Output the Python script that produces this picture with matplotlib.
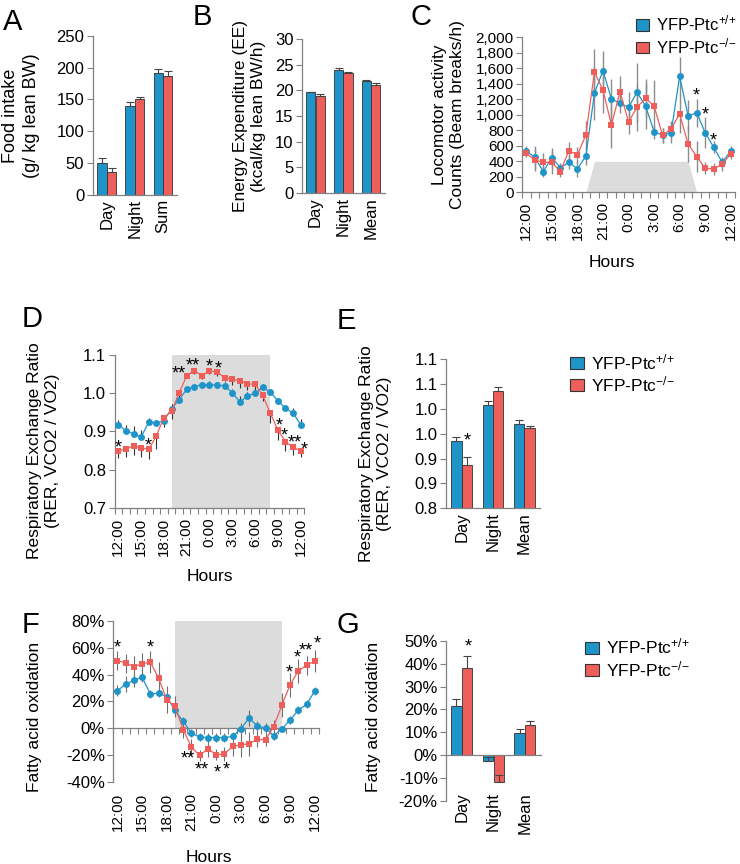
import matplotlib
matplotlib.use("Agg")
import matplotlib.pyplot as plt
import numpy as np
from matplotlib.patches import Patch
from matplotlib.ticker import FuncFormatter

plt.rcParams['font.family'] = ['Liberation Sans', 'DejaVu Sans']
plt.rcParams['mathtext.fontset'] = 'custom'
plt.rcParams['mathtext.rm'] = 'Liberation Sans'
plt.rcParams['mathtext.it'] = 'Liberation Sans:italic'

BLUE = '#1f94c9'
RED = '#ee5f5b'
GREY = '#808080'
SHADE = '#dcdcdc'

# --- data ---
periods_sum = ['Day', 'Night', 'Sum']
periods = ['Day', 'Night', 'Mean']
hour_labels = ['12:00', '15:00', '18:00', '21:00', '0:00', '3:00', '6:00', '9:00', '12:00']

food_wt = [50.7, 139.6, 192.0]
food_wt_err = [6.8, 5.8, 5.2]
food_ko = [36.1, 150.6, 186.7]
food_ko_err = [7.0, 2.6, 7.3]

ee_wt = [19.6, 24.0, 21.8]
ee_wt_err = [0.1, 0.3, 0.15]
ee_ko = [18.9, 23.4, 21.1]
ee_ko_err = [0.4, 0.3, 0.3]

loco_wt = [533, 452, 267, 447, 318, 387, 301, 469, 1277, 1570, 1204, 1148, 1097,
           1290, 1114, 783, 735, 770, 1497, 985, 1028, 770, 581, 387, 533]
loco_wt_err = [60, 150, 70, 120, 60, 90, 100, 120, 340, 250, 260, 120, 200,
               380, 300, 90, 100, 140, 250, 200, 180, 200, 80, 60, 70]
loco_ko = [503, 417, 387, 387, 267, 538, 482, 740, 1553, 1320, 869, 1299, 908,
           1097, 1213, 1114, 735, 817, 1011, 624, 460, 310, 301, 361, 499]
loco_ko_err = [50, 140, 120, 150, 70, 110, 100, 180, 300, 300, 300, 200, 150,
               300, 250, 330, 100, 100, 250, 230, 200, 80, 80, 90, 70]
loco_dark = [0] * 8 + [400] * 12 + [0] * 5

rer_wt = [0.917, 0.902, 0.893, 0.885, 0.924, 0.922, 0.928, 0.959, 0.983, 1.010,
          1.017, 1.022, 1.022, 1.021, 1.019, 1.001, 0.977, 0.993, 1.000, 1.015,
          1.003, 0.980, 0.960, 0.948, 0.917]
rer_wt_err = [0.012, 0.015, 0.02, 0.018, 0.01, 0.005, 0.008, 0.012, 0.01, 0.005,
              0.005, 0.008, 0.01, 0.008, 0.01, 0.01, 0.015, 0.01, 0.01, 0.008,
              0.005, 0.008, 0.01, 0.012, 0.015]
rer_ko = [0.849, 0.854, 0.862, 0.857, 0.853, 0.888, 0.936, 0.952, 1.001, 1.045,
          1.059, 1.046, 1.059, 1.055, 1.041, 1.036, 1.033, 1.024, 1.024, 0.994,
          0.948, 0.903, 0.873, 0.858, 0.849]
rer_ko_err = [0.018, 0.02, 0.025, 0.025, 0.025, 0.035, 0.025, 0.02, 0.01, 0.005,
              0.01, 0.01, 0.01, 0.01, 0.01, 0.015, 0.02, 0.015, 0.015, 0.015,
              0.025, 0.025, 0.025, 0.02, 0.015]

rer_bar_wt = [0.935, 1.007, 0.970]
rer_bar_wt_err = [0.009, 0.009, 0.007]
rer_bar_ko = [0.887, 1.036, 0.961]
rer_bar_ko_err = [0.017, 0.008, 0.005]

fao_wt = [27.9, 32.9, 35.6, 38.1, 25.4, 26.1, 23.6, 13.2, 5.0, -3.7, -6.7, -7.0, -7.0,
          -7.0, -6.2, -0.5, 7.5, 1.7, 0.0, -5.7, -0.5, 6.2, 13.5, 17.8, 28.0]
fao_wt_err = [4, 6, 5, 4, 3, 3, 4, 4, 3, 3, 3, 3, 3, 3, 3, 4, 6, 4, 4, 3, 2, 3, 3, 3, 3]
fao_ko = [50.5, 48.5, 46.0, 48.0, 49.3, 37.3, 21.2, 16.2, -1.2, -14.2, -20.4, -15.4, -19.9,
          -19.2, -13.7, -12.4, -11.7, -8.2, -8.7, 1.2, 17.4, 32.4, 42.9, 46.9, 50.1]
fao_ko_err = [7, 7, 8, 8, 8, 12, 10, 8, 6, 6, 4, 6, 4, 5, 7, 9, 9, 6, 5, 5, 9, 9, 9, 7, 8]

fao_bar_wt = [21.5, -2.5, 9.5]
fao_bar_wt_err = [3.1, 1.5, 1.9]
fao_bar_ko = [38.0, -11.8, 13.0]
fao_bar_ko_err = [5.4, 3.0, 2.0]

# significance marks: (x, y, text)
stars_c = [(20, 1298, '*'), (21, 1062, '*'), (22, 717, '*')]
stars_d = [(7.9, 1.062, '**'), (9.8, 1.083, '**'), (0, 0.869, '*'), (4, 0.873, '*'),
           (12, 1.080, '*'), (13.2, 1.074, '*'), (21.2, 0.927, '*'), (21.9, 0.900, '*'),
           (23.2, 0.882, '**'), (24.5, 0.862, '*')]
stars_e = [(0.19, 0.944, '*')]
stars_f = [(0, 63.3, '*'), (4, 63.3, '*'), (8.6, -20, '**'), (10.2, -27.5, '**'),
           (12.1, -30, '*'), (13.2, -27.5, '*'), (20.9, 44.7, '*'), (21.8, 55.4, '*'),
           (22.9, 61.3, '**'), (24.3, 66.3, '*')]
stars_g = [(0.2, 49.4, '*')]

W, H = 740, 864
fig = plt.figure(figsize=(7.4, 8.64), dpi=100)


def rect(x0, y0, x1, y1):
    return [x0 / W, 1 - y1 / H, (x1 - x0) / W, (y1 - y0) / H]


def style(ax, ysize=12):
    for s in ['top', 'right']:
        ax.spines[s].set_visible(False)
    for s in ['left', 'bottom']:
        ax.spines[s].set_color(GREY)
        ax.spines[s].set_linewidth(0.9)
    ax.tick_params(axis='y', colors=GREY, labelcolor='black', length=4, width=0.8,
                   labelsize=ysize, pad=2)
    ax.tick_params(axis='x', colors=GREY, labelcolor='black', labelsize=11)


def stars(ax, marks):
    for x, y, t in marks:
        ax.annotate(t, (x, y), xytext=(0, -6.5), textcoords='offset points',
                    ha='center', va='baseline', fontsize=13, annotation_clip=False)


def bar_panel(ax, cats, wt, wt_err, ko, ko_err):
    x = np.arange(len(cats))
    ax.bar(x - 0.17, wt, 0.33, color=BLUE, edgecolor='#333333', linewidth=0.6, zorder=2)
    ax.bar(x + 0.17, ko, 0.33, color=RED, edgecolor='#333333', linewidth=0.6, zorder=2)
    ax.errorbar(x - 0.17, wt, yerr=[np.zeros(len(wt)), wt_err], fmt='none',
                ecolor='#444444', elinewidth=0.8, capsize=3, capthick=0.8, zorder=3)
    ax.errorbar(x + 0.17, ko, yerr=[np.zeros(len(ko)), ko_err], fmt='none',
                ecolor='#444444', elinewidth=0.8, capsize=3, capthick=0.8, zorder=3)
    ax.set_xlim(-0.5, len(cats) - 0.5)
    style(ax)
    ax.set_xticks(x, cats, rotation=90)
    ax.tick_params(axis='x', length=0, pad=3, labelsize=12)


def hour_axis(ax, labels=True):
    ax.set_xlim(-0.5, 24.5)
    ax.set_xticks(np.arange(0, 25, 3))
    ax.set_xticks(np.arange(-0.5, 25, 1), minor=True)
    ax.tick_params(axis='x', which='major', length=0)
    ax.tick_params(axis='x', which='minor', length=4, width=0.8, colors=GREY)
    if labels:
        ax.set_xticklabels(hour_labels, rotation=90)
        ax.tick_params(axis='x', which='major', pad=7)
    else:
        ax.tick_params(axis='x', which='major', labelbottom=False)


def line_pair(ax, wt, wt_err, ko, ko_err, ecolor, ms, elw=0.8):
    x = np.arange(len(wt))
    ax.errorbar(x, wt, yerr=wt_err, color=BLUE, marker='o', ms=ms, mew=0, lw=0.9,
                ecolor=ecolor, elinewidth=elw, capsize=2.5, capthick=elw, zorder=3)
    ax.errorbar(x, ko, yerr=ko_err, color=RED, marker='s', ms=ms, mew=0, lw=0.9,
                ecolor=ecolor, elinewidth=elw, capsize=2.5, capthick=elw, zorder=3)


def ylabel(ax, text, xf, yf, size=12.5):
    ax.set_ylabel(text, fontsize=size, va='center', ha='center', linespacing=1.25)
    ax.yaxis.set_label_coords(xf, yf)


def xlabel(ax, text, xf, yf):
    ax.set_xlabel(text, fontsize=12.5, va='center', ha='center')
    ax.xaxis.set_label_coords(xf, yf)


leg_handles = [Patch(facecolor=BLUE, edgecolor='#333333', linewidth=0.8),
               Patch(facecolor=RED, edgecolor='#333333', linewidth=0.8)]
leg_labels = ['YFP-Ptc$^{{+}/{+}}$', 'YFP-Ptc$^{{-}/{-}}$']


def legend(ax, x, y, size=12.5):
    ax.legend(leg_handles, leg_labels, loc='upper left', bbox_to_anchor=(x / W, 1 - y / H),
              bbox_transform=fig.transFigure, frameon=False, fontsize=size,
              handlelength=0.8, handleheight=0.7, handletextpad=0.4,
              labelspacing=0.15, borderpad=0, borderaxespad=0)


# --- A ---
axA = fig.add_axes(rect(92.7, 35.7, 177, 195))
bar_panel(axA, periods_sum, food_wt, food_wt_err, food_ko, food_ko_err)
axA.set_ylim(0, 250)
axA.set_yticks(np.arange(0, 251, 50))
ylabel(axA, 'Food intake\n(g/ kg lean BW)', -0.85, 0.5, size=13)

# --- B ---
axB = fig.add_axes(rect(301.7, 39.3, 385, 192.7))
bar_panel(axB, periods, ee_wt, ee_wt_err, ee_ko, ee_ko_err)
axB.set_ylim(0, 30)
axB.set_yticks(np.arange(0, 31, 5))
ylabel(axB, 'Energy Expenditure (EE)\n(kcal/kg lean BW/h)', -0.63, 0.5)

# --- C ---
axC = fig.add_axes(rect(522, 37.3, 735, 192.3))
style(axC, ysize=11)
axC.fill_between(np.arange(25), loco_dark, color=SHADE, lw=0, zorder=1)
line_pair(axC, loco_wt, loco_wt_err, loco_ko, loco_ko_err, '#8c8c8c', 5, elw=1.0)
hour_axis(axC)
axC.set_ylim(0, 2000)
axC.set_yticks(np.arange(0, 2001, 200))
axC.yaxis.set_major_formatter(FuncFormatter(lambda v, p: f'{v:,.0f}'))
stars(axC, stars_c)
ylabel(axC, 'Locomotor activity\nCounts (Beam breaks/h)', -0.343, 0.5)
xlabel(axC, 'Hours', 0.42, -0.45)
legend(axC, 636, 14, size=12)

# --- D ---
axD = fig.add_axes(rect(114.5, 355, 304.5, 507.7))
style(axD)
axD.axvspan(7, 20, color=SHADE, lw=0, zorder=1)
x = np.arange(25)
axD.errorbar(x, rer_wt, yerr=[np.zeros(25), rer_wt_err], color=BLUE, marker='o', ms=5,
             mew=0, lw=0.9, ecolor='#333333', elinewidth=0.8, capsize=2.5, capthick=0.8, zorder=3)
axD.errorbar(x, rer_ko, yerr=[rer_ko_err, np.zeros(25)], color=RED, marker='s', ms=5,
             mew=0, lw=0.9, ecolor='#333333', elinewidth=0.8, capsize=2.5, capthick=0.8, zorder=3)
hour_axis(axD)
axD.set_ylim(0.7, 1.1)
axD.set_yticks(np.arange(0.7, 1.101, 0.1))
axD.yaxis.set_major_formatter(FuncFormatter(lambda v, p: f'{v:.1f}'))
stars(axD, stars_d)
ylabel(axD, 'Respiratory Exchange Ratio\n(RER, VCO2 / VO2)', -0.376, 0.371)
xlabel(axD, 'Hours', 0.5, -0.452)

# --- E ---
axE = fig.add_axes(rect(446, 359, 540, 508.3))
bar_panel(axE, periods, rer_bar_wt, rer_bar_wt_err, rer_bar_ko, rer_bar_ko_err)
axE.set_ylim(0.8, 1.1)
axE.set_yticks(np.linspace(0.8, 1.1, 7),
               ['0.8', '0.9', '0.9', '1.0', '1.0', '1.1', '1.1'])
stars(axE, stars_e)
ylabel(axE, 'Respiratory Exchange Ratio\n(RER, VCO2 / VO2)', -0.755, 0.364)
legend(axE, 570, 352)

# --- F ---
axF = fig.add_axes(rect(113.3, 621, 319, 781.7))
style(axF)
axF.fill_between([7, 20], 0, 80, color=SHADE, lw=0, zorder=1)
line_pair(axF, fao_wt, fao_wt_err, fao_ko, fao_ko_err, '#6e6e6e', 5)
hour_axis(axF, labels=False)
axF.spines['bottom'].set_position(('data', 0))
axF.set_ylim(-40, 80)
axF.set_yticks(np.arange(-40, 81, 20))
axF.yaxis.set_major_formatter(FuncFormatter(lambda v, p: f'{v:.0f}%'))
secF = axF.secondary_xaxis(-0.072)
secF.set_xticks(np.arange(0, 25, 3), hour_labels, rotation=90)
secF.tick_params(length=0, pad=0, labelsize=11)
secF.spines['bottom'].set_visible(False)
stars(axF, stars_f)
ylabel(axF, 'Fatty acid oxidation', -0.383, 0.4)
xlabel(axF, 'Hours', 0.465, -0.469)

# --- G ---
axG = fig.add_axes(rect(446, 641, 540.7, 800.7))
bar_panel(axG, periods, fao_bar_wt, fao_bar_wt_err, fao_bar_ko, fao_bar_ko_err)
axG.spines['bottom'].set_position(('data', 0))
axG.tick_params(axis='x', labelbottom=False)
axG.set_ylim(-20, 50)
axG.set_yticks(np.arange(-20, 51, 10))
axG.yaxis.set_major_formatter(FuncFormatter(lambda v, p: f'{v:.0f}%'))
secG = axG.secondary_xaxis(0.054)
secG.set_xticks(np.arange(3), periods, rotation=90)
secG.tick_params(length=0, pad=0, labelsize=12)
secG.spines['bottom'].set_visible(False)
stars(axG, stars_g)
ylabel(axG, 'Fatty acid oxidation', -0.766, 0.524)
legend(axG, 585, 637)

# panel letters
for letter, lx, ly in [('A', 3, 30), ('B', 193, 25), ('C', 410, 25), ('D', 22, 327),
                       ('E', 337, 329), ('F', 22, 633), ('G', 337, 633)]:
    fig.text(lx / W, 1 - ly / H, letter, fontsize=21, ha='left', va='baseline')

fig.savefig('out.png', dpi=100)
